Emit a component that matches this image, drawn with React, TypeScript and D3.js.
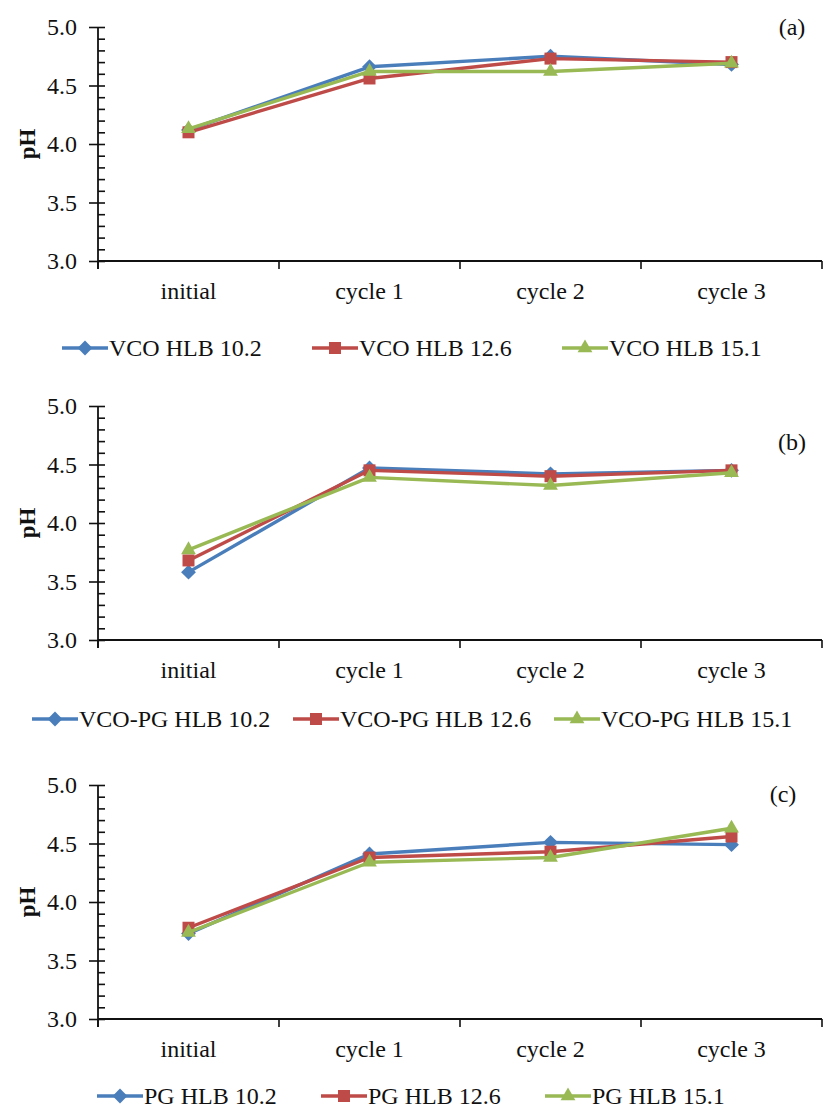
import React, { useEffect, useRef } from 'react'
import * as d3 from 'd3'

// categories and ticks
const categories = ['initial', 'cycle 1', 'cycle 2', 'cycle 3']
const yMajor = [3.0, 3.5, 4.0, 4.5, 5.0]
const yMinor = d3.range(30, 51).map((v) => v / 10)

// (a) VCO
const vcoNames = ['VCO HLB 10.2', 'VCO HLB 12.6', 'VCO HLB 15.1']
const vco102 = [4.12, 4.66, 4.75, 4.68]
const vco126 = [4.10, 4.56, 4.73, 4.70]
const vco151 = [4.13, 4.62, 4.62, 4.69]

// (b) VCO-PG
const vcoPgNames = ['VCO-PG HLB 10.2', 'VCO-PG HLB 12.6', 'VCO-PG HLB 15.1']
const vcoPg102 = [3.58, 4.47, 4.42, 4.45]
const vcoPg126 = [3.68, 4.45, 4.40, 4.45]
const vcoPg151 = [3.77, 4.39, 4.32, 4.43]

// (c) PG
const pgNames = ['PG HLB 10.2', 'PG HLB 12.6', 'PG HLB 15.1']
const pg102 = [3.73, 4.41, 4.51, 4.49]
const pg126 = [3.78, 4.38, 4.43, 4.56]
const pg151 = [3.74, 4.34, 4.38, 4.63]

const colors = ['#4A7EBB', '#BE4B48', '#98B954']
const FONT = '"Liberation Serif", "Times New Roman", serif'

const panels = [
	{ tag: '(a)', names: vcoNames, series: [vco102, vco126, vco151], top: 27, tagX: 792, tagDy: 8, legX: 62, legStep: 250, legDy: 87 },
	{ tag: '(b)', names: vcoPgNames, series: [vcoPg102, vcoPg126, vcoPg151], top: 406, tagX: 792, tagDy: 44, legX: 32, legStep: 261, legDy: 79 },
	{ tag: '(c)', names: pgNames, series: [pg102, pg126, pg151], top: 785, tagX: 783, tagDy: 17, legX: 97, legStep: 224, legDy: 77 },
]

const symbols = [
	d3.symbol().type(d3.symbolDiamond2).size(140),
	d3.symbol().type(d3.symbolSquare).size(144),
	d3.symbol().type(d3.symbolTriangle).size(95),
]

function addText(g, x, y, str, opts: any = {}) {
	return g
		.append('text')
		.attr('x', x)
		.attr('y', y)
		.attr('text-anchor', opts.anchor ?? 'start')
		.attr('font-family', FONT)
		.attr('font-size', opts.size ?? 24)
		.attr('font-weight', opts.weight ?? 'normal')
		.attr('fill', '#111')
		.text(str)
}

function drawPanel(svg, p) {
	const height = 234
	const left = 98
	const right = 822
	const bottom = p.top + height

	const g = svg.append('g').attr('class', 'panel')

	const x = d3.scaleBand().domain(categories).range([left, right])
	const y = d3.scaleLinear().domain([3, 5]).range([bottom, p.top])
	const cx = (i) => x(categories[i]) + x.bandwidth() / 2

	// y axis: minor ticks inside, major ticks crossing
	g.append('g')
		.attr('transform', `translate(${left},0)`)
		.call(d3.axisRight(y).tickValues(yMinor).tickSize(7).tickFormat(() => ''))
		.call((a) => a.select('.domain').remove())
	g.append('g')
		.attr('transform', `translate(${left},0)`)
		.call(d3.axisLeft(y).tickValues(yMajor).tickSize(9).tickFormat(() => ''))
		.call((a) => a.select('.domain').remove())
	g.selectAll('.tick line').attr('stroke', '#111').attr('stroke-width', 1.6)

	g.append('line')
		.attr('x1', left).attr('x2', left)
		.attr('y1', p.top).attr('y2', bottom + 8)
		.attr('stroke', '#111').attr('stroke-width', 1.8)

	yMajor.forEach((v) => {
		addText(g, left - 21, y(v) + 8, v.toFixed(1), { anchor: 'end' })
	})

	// x axis
	g.append('line')
		.attr('x1', left).attr('x2', right)
		.attr('y1', bottom).attr('y2', bottom)
		.attr('stroke', '#111').attr('stroke-width', 1.8)
	const bounds = categories.map((c) => x(c)).concat([right])
	g.selectAll('.xtick')
		.data(bounds)
		.enter()
		.append('line')
		.attr('x1', (d) => d).attr('x2', (d) => d)
		.attr('y1', bottom).attr('y2', bottom + 8)
		.attr('stroke', '#111').attr('stroke-width', 1.6)
	categories.forEach((c, i) => {
		addText(g, cx(i), bottom + 38, c, { anchor: 'middle' })
	})

	// y title and panel tag
	g.append('text')
		.attr('transform', `translate(${35},${(p.top + bottom) / 2}) rotate(-90)`)
		.attr('text-anchor', 'middle')
		.attr('font-family', FONT)
		.attr('font-size', 23)
		.attr('font-weight', 'bold')
		.attr('fill', '#111')
		.text('pH')
	addText(g, p.tagX, p.top + p.tagDy, p.tag, { anchor: 'middle' })

	// series
	const line = d3.line<number>().x((d, i) => cx(i)).y((d) => y(d))
	p.series.forEach((vals, s) => {
		g.append('path')
			.attr('d', line(vals))
			.attr('fill', 'none')
			.attr('stroke', colors[s])
			.attr('stroke-width', 3.4)
			.attr('stroke-linejoin', 'round')
		g.selectAll(`.m${s}`)
			.data(vals)
			.enter()
			.append('path')
			.attr('transform', (d, i) => `translate(${cx(i)},${y(d)})`)
			.attr('d', symbols[s]())
			.attr('fill', colors[s])
	})

	// legend
	const legY = bottom + p.legDy
	p.names.forEach((name, s) => {
		const lx = p.legX + s * p.legStep
		g.append('line')
			.attr('x1', lx).attr('x2', lx + 46)
			.attr('y1', legY).attr('y2', legY)
			.attr('stroke', colors[s]).attr('stroke-width', 3.4)
		g.append('path')
			.attr('transform', `translate(${lx + 23},${legY})`)
			.attr('d', symbols[s]())
			.attr('fill', colors[s])
		addText(g, lx + 47, legY + 8, name)
	})
}

export default function App() {
	const ref = useRef<SVGSVGElement>(null)

	useEffect(() => {
		const svg = d3.select(ref.current)
		svg.selectAll('*').remove()
		panels.forEach((p) => drawPanel(svg, p))
	}, [])

	return (
		<svg
			ref={ref}
			width={825}
			height={1108}
			viewBox="0 0 825 1108"
			style={{ position: 'absolute', left: 0, top: 0, background: '#fff' }}
		/>
	)
}
